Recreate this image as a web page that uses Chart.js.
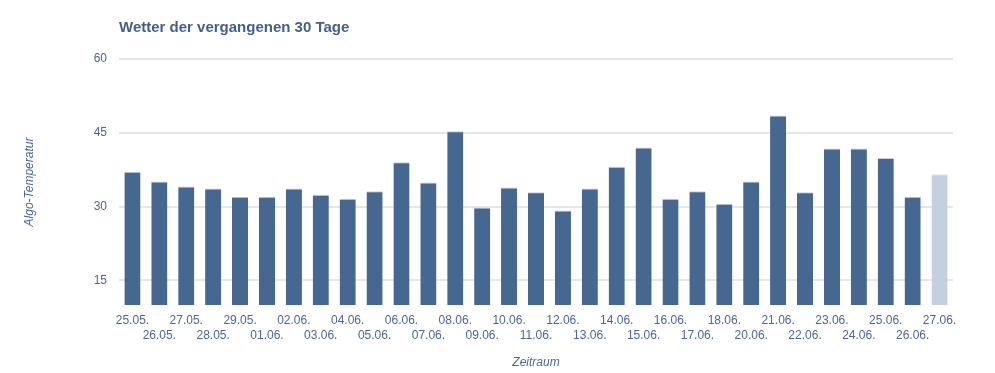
<!DOCTYPE html>
<html>
<head>
<meta charset="utf-8">
<script src="https://cdn.jsdelivr.net/npm/chart.js@4/dist/chart.umd.min.js"></script>
<style>
  html, body { margin: 0; padding: 0; background: #fff; }
  #wrap { width: 995px; height: 373px; }
</style>
</head>
<body>
<div id="wrap"><canvas id="weather-chart" width="995" height="373"></canvas></div>
<script>
// Daten
const days = ['25.05.', '26.05.', '27.05.', '28.05.', '29.05.', '01.06.', '02.06.', '03.06.',
  '04.06.', '05.06.', '06.06.', '07.06.', '08.06.', '09.06.', '10.06.', '11.06.', '12.06.',
  '13.06.', '14.06.', '15.06.', '16.06.', '17.06.', '18.06.', '20.06.', '21.06.', '22.06.',
  '23.06.', '24.06.', '25.06.', '26.06.', '27.06.'];
const temperatures = [37.1, 35.1, 34.1, 33.7, 32.0, 32.0, 33.7, 32.4, 31.6, 33.1, 39.0, 34.9,
  45.3, 29.8, 33.9, 32.9, 29.2, 33.7, 38.1, 42.0, 31.6, 33.1, 30.6, 35.1, 48.5, 32.9, 41.8,
  41.8, 39.9, 32.0, 36.6];
const yTicks = [15, 30, 45, 60];

// Farben
const barColor = '#46678f';
const barTodayColor = '#c3d0de';
const textColor = '#4a6896';
const fontFamily = '"Liberation Sans", Arial, Helvetica, sans-serif';

const ctx = document.getElementById('weather-chart').getContext('2d');
const lastIndex = temperatures.length - 1;

new Chart(ctx, {
  type: 'bar',
  data: {
    labels: days,
    datasets: [{
      data: temperatures,
      backgroundColor: c => c.dataIndex === lastIndex ? barTodayColor : barColor,
      borderColor: c => c.dataIndex === lastIndex ? '#e3e8ef' : '#c5d0dc',
      borderWidth: { top: 1, bottom: 1, left: 0, right: 0 },
      borderSkipped: false,
      barPercentage: 0.6,
      categoryPercentage: 1
    }]
  },
  options: {
    responsive: false,
    animation: false,
    layout: { padding: { left: 0, right: 42, top: 0, bottom: 0 } },
    plugins: {
      legend: { display: false },
      tooltip: { enabled: false },
      title: {
        display: true,
        text: 'Wetter der vergangenen 30 Tage',
        align: 'start',
        fullSize: false,
        color: '#42608e',
        font: { family: fontFamily, size: 15, weight: 'bold', lineHeight: 1.2 },
        padding: { top: 19, bottom: 22 }
      }
    },
    scales: {
      x: {
        grid: { display: false, drawTicks: false },
        border: { display: false },
        ticks: {
          autoSkip: false,
          maxRotation: 0,
          minRotation: 0,
          padding: 8,
          color: textColor,
          font: { family: fontFamily, size: 12, lineHeight: 1.25 },
          // jedes zweite Datum in die zweite Zeile
          callback: function (value, index) {
            const label = this.getLabelForValue(value);
            return index % 2 === 1 ? ['', label] : label;
          }
        },
        title: {
          display: true,
          text: 'Zeitraum',
          color: textColor,
          font: { family: fontFamily, size: 12, style: 'italic', lineHeight: 1.2 },
          padding: { top: 0, bottom: 3 }
        },
        afterFit: scale => { scale.height = 68; }
      },
      y: {
        min: 10,
        max: 60,
        afterBuildTicks: scale => { scale.ticks = yTicks.map(v => ({ value: v })); },
        grid: { color: '#e6e6e6', lineWidth: 2, drawTicks: false },
        border: { display: false },
        ticks: {
          padding: 12,
          color: textColor,
          font: { family: fontFamily, size: 12 }
        },
        title: {
          display: true,
          text: 'Algo-Temperatur',
          color: textColor,
          font: { family: fontFamily, size: 12, style: 'italic', lineHeight: 1.2 },
          padding: { top: 22, bottom: 0 }
        },
        afterFit: scale => { scale.width = 119; }
      }
    }
  }
});
</script>
</body>
</html>
